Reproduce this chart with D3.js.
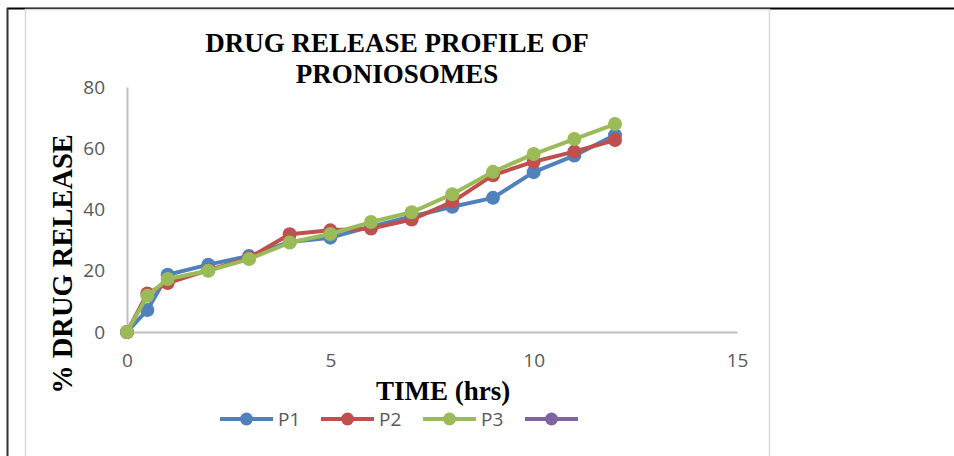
<!DOCTYPE html>
<html>
<head>
<meta charset="utf-8">
<script src="https://cdn.jsdelivr.net/npm/d3@7"></script>
<style>
  body { margin: 0; background: #fff; }
  svg { display: block; }
</style>
</head>
<body>
<script>
// Drug release profile of proniosomes - line chart with markers

const width = 954;
const height = 456;

const times = [0, 0.5, 1, 2, 3, 4, 5, 6, 7, 8, 9, 10, 11, 12];
const p1 = [0, 7.2, 18.7, 22, 24.8, 29.4, 30.8, 34.4, 37.7, 40.9, 43.8, 52.2, 57.6, 64.3];
const p2 = [0, 12.6, 16, 20.2, 24.2, 31.9, 33.2, 33.8, 36.7, 42.5, 51.2, 55.6, 58.9, 62.7];
const p3 = [0, 11.8, 17.3, 20, 23.8, 29.2, 32, 35.9, 39.1, 45, 52.3, 58.1, 63, 67.9];
const seriesNames = ["P1", "P2", "P3", ""];
const colors = ["#4F81BD", "#C0504D", "#9BBB59", "#8064A2"];
const xTicks = [0, 5, 10, 15];
const yTicks = [0, 20, 40, 60, 80];

const tickFont = "'Open Sans', 'Noto Sans', sans-serif";
const serif = "'Liberation Serif', 'Times New Roman', serif";

const svg = d3.select("body").append("svg")
    .attr("width", width)
    .attr("height", height);

// page frame lines
svg.append("line").attr("x1", 7).attr("x2", width).attr("y1", 8.5).attr("y2", 8.5)
    .attr("stroke", "#000").attr("stroke-width", 2);
svg.append("line").attr("x1", 7.5).attr("x2", 7.5).attr("y1", 8).attr("y2", height)
    .attr("stroke", "#333").attr("stroke-width", 2);

// chart area
svg.append("rect")
    .attr("x", 25.5).attr("y", 9.5)
    .attr("width", 744).attr("height", 460)
    .attr("fill", "#fff")
    .attr("stroke", "#d9d9d9").attr("stroke-width", 1.5);

const x = d3.scaleLinear().domain([0, 15]).range([127, 737]);
const y = d3.scaleLinear().domain([0, 80]).range([332, 87]);

// axes
const xAxis = svg.append("g")
    .attr("transform", `translate(0,${y(0)})`)
    .call(d3.axisBottom(x).tickValues(xTicks).tickSize(0).tickPadding(22));
const yAxis = svg.append("g")
    .attr("transform", `translate(${x(0)},0)`)
    .call(d3.axisLeft(y).tickValues(yTicks).tickSize(0).tickPadding(22));

xAxis.select(".domain").attr("stroke", "#bfbfbf").attr("stroke-width", 2);
yAxis.select(".domain").attr("stroke", "#bfbfbf").attr("stroke-width", 2);
svg.selectAll(".tick text")
    .attr("fill", "#595959")
    .style("font-family", tickFont)
    .style("font-size", "19px");

// title
const title = svg.append("text")
    .attr("text-anchor", "middle")
    .style("font-family", serif)
    .style("font-weight", "bold")
    .style("font-size", "27px")
    .attr("fill", "#000");
title.append("tspan").attr("x", 397).attr("y", 52).text("DRUG RELEASE PROFILE OF");
title.append("tspan").attr("x", 397).attr("y", 83).text("PRONIOSOMES");

// axis titles
svg.append("text")
    .attr("transform", "translate(72,264) rotate(-90)")
    .attr("text-anchor", "middle")
    .style("font-family", serif)
    .style("font-weight", "bold")
    .style("font-size", "28.5px")
    .text("% DRUG RELEASE");

svg.append("text")
    .attr("x", 443).attr("y", 400)
    .attr("text-anchor", "middle")
    .style("font-family", serif)
    .style("font-weight", "bold")
    .style("font-size", "27px")
    .text("TIME (hrs)");

// series
const series = [p1, p2, p3];
const line = d3.line().x(d => x(d[0])).y(d => y(d[1]));

series.forEach((vals, i) => {
    const pts = times.map((t, j) => [t, vals[j]]);
    svg.append("path")
        .datum(pts)
        .attr("d", line)
        .attr("fill", "none")
        .attr("stroke", colors[i])
        .attr("stroke-width", 4)
        .attr("stroke-linejoin", "round");
    svg.append("g").selectAll("circle")
        .data(pts)
        .join("circle")
        .attr("cx", d => x(d[0]))
        .attr("cy", d => y(d[1]))
        .attr("r", 7)
        .attr("fill", colors[i]);
});

// legend
const legendX = [220, 321, 423, 525];
const legend = svg.append("g");
seriesNames.forEach((name, i) => {
    const g = legend.append("g").attr("transform", `translate(${legendX[i]},419)`);
    g.append("line").attr("x1", 0).attr("x2", 53).attr("y1", 0).attr("y2", 0)
        .attr("stroke", colors[i]).attr("stroke-width", 4);
    g.append("circle").attr("cx", 26.5).attr("cy", 0).attr("r", 6.5).attr("fill", colors[i]);
    g.append("text").attr("x", 58).attr("y", 7)
        .attr("fill", "#595959")
        .style("font-family", tickFont)
        .style("font-size", "19px")
        .text(name);
});
</script>
</body>
</html>
